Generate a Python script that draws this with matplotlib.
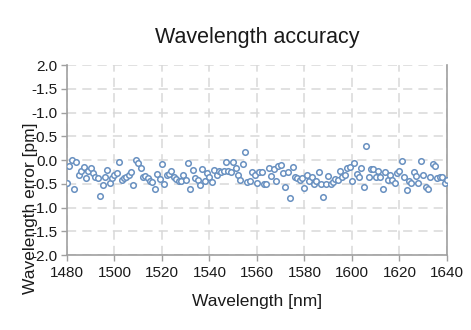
import matplotlib
matplotlib.use("Agg")
import matplotlib.pyplot as plt
import numpy as np

plt.rcParams['font.family'] = ['Liberation Sans', 'DejaVu Sans']

# wavelength sweep, one reading per nm
wavelength = np.arange(1480, 1641)

# measured wavelength error [pm]
error_pm = [
    -0.49, -0.13, 0.01, -0.60, -0.04, -0.31, -0.22, -0.15, -0.38, -0.22,
    -0.17, -0.28, -0.36, -0.38, -0.76, -0.53, -0.36, -0.21, -0.49, -0.38,
    -0.31, -0.28, -0.04, -0.42, -0.38, -0.36, -0.31, -0.26, -0.53, 0.01,
    -0.06, -0.17, -0.35, -0.34, -0.38, -0.45, -0.47, -0.61, -0.29, -0.40,
    -0.09, -0.51, -0.32, -0.29, -0.24, -0.35, -0.40, -0.44, -0.44, -0.32,
    -0.43, -0.07, -0.61, -0.21, -0.37, -0.42, -0.53, -0.18, -0.44, -0.28,
    -0.35, -0.47, -0.21, -0.32, -0.24, -0.25, -0.23, -0.05, -0.23, -0.26,
    -0.05, -0.17, -0.32, -0.42, -0.08, 0.17, -0.46, -0.44, -0.26, -0.32,
    -0.49, -0.26,
    -0.25, -0.50, -0.51, -0.17, -0.34, -0.18, -0.44, -0.12, -0.10, -0.27,
    -0.57, -0.26, -0.80, -0.15, -0.35, -0.38, -0.42, -0.38, -0.59, -0.31,
    -0.44, -0.36, -0.51, -0.44, -0.25, -0.50, -0.78, -0.50, -0.33, -0.51,
    -0.47, -0.39, -0.43, -0.22, -0.36, -0.31, -0.16, -0.15, -0.44, -0.07,
    -0.29, -0.36, -0.16, -0.57, 0.30, -0.36, -0.18, -0.18, -0.36, -0.22,
    -0.35, -0.60, -0.26, -0.42, -0.31, -0.43, -0.49, -0.28, -0.24, -0.03,
    -0.35, -0.63, -0.44, -0.49, -0.26, -0.33, -0.49, -0.01, -0.32, -0.57,
    -0.61, -0.35, -0.08, -0.12, -0.38, -0.36, -0.36, -0.49, -0.43,
]

x_ticks = [1480, 1500, 1520, 1540, 1560, 1580, 1600, 1620, 1640]
y_ticks = [2.0, 1.5, 1.0, 0.5, 0.0, -0.5, -1.0, -1.5, -2.0]
y_tick_labels = ["2.0", "-1.5", "-1.0", "-0.5", "0.0", "-0.5", "-1.0", "-1.5", "-2.0"]

fig = plt.figure(figsize=(4.71, 3.30), dpi=100)
ax = fig.add_axes([0.142, 0.227, 0.807, 0.576])

ax.plot(wavelength, error_pm, linestyle='none', marker='o', markersize=4,
        markerfacecolor='white', markeredgecolor='#6890c0', markeredgewidth=1.1,
        zorder=3)

ax.set_xlim(1480, 1640)
ax.set_ylim(-2.0, 2.0)
ax.set_xticks(x_ticks)
ax.set_yticks(y_ticks)
ax.set_yticklabels(y_tick_labels)

ax.grid(True, color='#d9d9d9', linestyle=(0, (6, 4)), linewidth=1.1)
ax.set_axisbelow(True)

for side in ['left', 'right', 'bottom']:
    ax.spines[side].set_color('#a0a0a0')
    ax.spines[side].set_linewidth(1.2)
ax.spines['top'].set_visible(False)

ax.tick_params(axis='both', colors='#a0a0a0', labelcolor='#1a1a1a',
               labelsize=11, length=4, width=1)
ax.tick_params(axis='x', pad=4)
ax.tick_params(axis='y', pad=3)

ax.set_title("Wavelength accuracy", fontsize=15.5, color='#1a1a1a', pad=16)
ax.set_xlabel("Wavelength [nm]", fontsize=12.5, color='#1a1a1a', labelpad=10)
# axis title sits close to the tick labels, shifted below the axes centre
fig.text(0.064, 0.37, "Wavelength error [pm]", rotation=90, fontsize=12.5,
         color='#1a1a1a', ha='center', va='center')

fig.savefig("out.png", dpi=100)
